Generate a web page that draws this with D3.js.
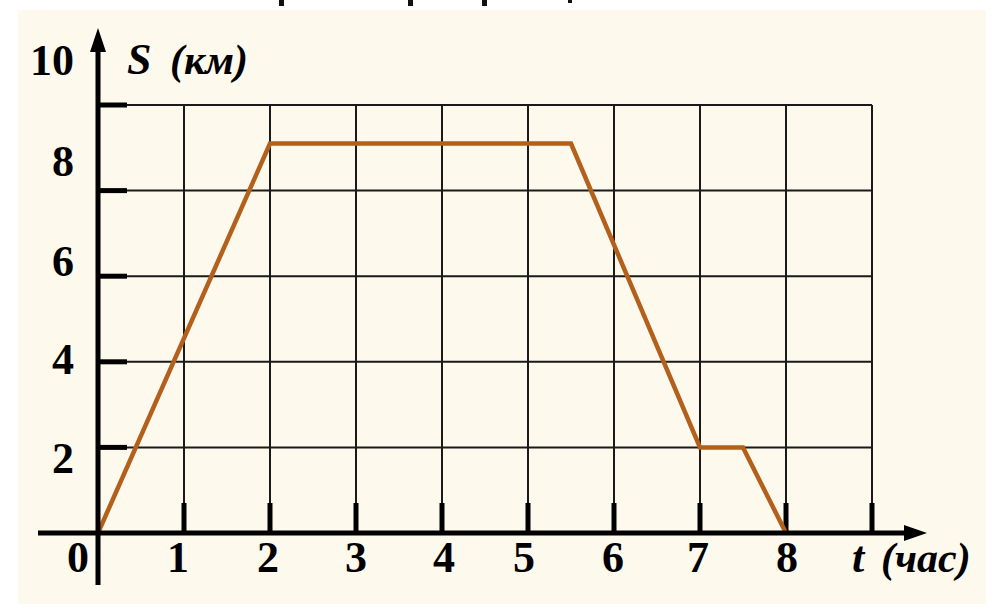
<!DOCTYPE html>
<html><head><meta charset="utf-8">
<script src="https://cdn.jsdelivr.net/npm/d3@7/dist/d3.min.js"></script>
<style>html,body{margin:0;padding:0;background:#fff;overflow:hidden}</style>
</head><body>
<svg id="c" width="996" height="615"></svg>
<script>
// ---- data ----
const times     = [0, 2, 5.5, 7, 7.5, 8];      // t (час)
const distances = [0, 9.1, 9.1, 2, 2, 0];      // S (км)
const xTicks = [0, 1, 2, 3, 4, 5, 6, 7, 8, 9];
const xTickLabels = ["0", "1", "2", "3", "4", "5", "6", "7", "8", ""];
const yTicks = [2, 4, 6, 8, 10];
const yTickLabels = ["2", "4", "6", "8", "10"];
const xTitle = ["t", "(час)"];
const yTitle = ["S", "(км)"];

// ---- layout ----
const svg = d3.select("#c");
const x = d3.scaleLinear().domain([0, 9]).range([98, 872]);
const y = d3.scaleLinear().domain([0, 10]).range([533, 105]);
const font = "'Liberation Serif','Times New Roman',serif";

// background
svg.append("rect").attr("x", 18).attr("y", 10).attr("width", 968).attr("height", 594).attr("fill", "#fdf9ed");
// fragments of a cut-off heading line above
[281, 410, 484].forEach(px => svg.append("rect").attr("x", px - 2).attr("y", 0).attr("width", 5).attr("height", 6).attr("fill", "#111"));
svg.append("rect").attr("x", 568).attr("y", 0).attr("width", 4).attr("height", 3).attr("fill", "#111");

const g = svg.append("g");

// grid lines
g.selectAll("line.hg").data(yTicks).join("line")
  .attr("x1", x(0)).attr("x2", x(9)).attr("y1", d => y(d)).attr("y2", d => y(d))
  .attr("stroke", "#1a1a1a").attr("stroke-width", 2);
g.selectAll("line.vg").data(xTicks.slice(1)).join("line")
  .attr("x1", d => x(d)).attr("x2", d => x(d)).attr("y1", y(10)).attr("y2", y(0))
  .attr("stroke", "#1a1a1a").attr("stroke-width", 2);

// thick ticks
g.selectAll("line.yt").data(yTicks).join("line")
  .attr("x1", x(0)).attr("x2", x(0) + 29).attr("y1", d => y(d)).attr("y2", d => y(d))
  .attr("stroke", "#000").attr("stroke-width", 5);
g.selectAll("line.xt").data(xTicks.slice(1)).join("line")
  .attr("x1", d => x(d)).attr("x2", d => x(d)).attr("y1", y(0)).attr("y2", y(0) - 30)
  .attr("stroke", "#000").attr("stroke-width", 5);

// the graph line
const line = d3.line().x((d, i) => x(times[i])).y(d => y(d));
g.append("path").datum(distances).attr("d", line)
  .attr("fill", "none").attr("stroke", "#b2601c").attr("stroke-width", 4.5)
  .attr("stroke-linejoin", "miter");

// axes
g.append("line").attr("x1", 38).attr("x2", 910).attr("y1", y(0)).attr("y2", y(0))
  .attr("stroke", "#000").attr("stroke-width", 5);
g.append("path").attr("d", `M927,${y(0)} L904,${y(0) - 8} L904,${y(0) + 8} Z`).attr("fill", "#000");
g.append("line").attr("x1", x(0)).attr("x2", x(0)).attr("y1", 585).attr("y2", 45)
  .attr("stroke", "#000").attr("stroke-width", 5);
g.append("path").attr("d", `M${x(0)},28 L${x(0) - 8},52 L${x(0) + 8},52 Z`).attr("fill", "#000");

// tick labels
const yLabelShift = {2: 11, 4: -2, 6: -15, 8: -29, 10: -45};
g.selectAll("text.yl").data(yTicks).join("text")
  .attr("x", 74).attr("y", d => y(d) + yLabelShift[d])
  .attr("text-anchor", "end").attr("dominant-baseline", "central")
  .attr("font-family", font).attr("font-weight", "bold").attr("font-size", 44)
  .text((d, i) => yTickLabels[i]);

const xLabelShift = {0: -20, 1: -6, 2: -2, 3: 0, 4: 2, 5: -4, 6: -1, 7: -2, 8: 1};
g.selectAll("text.xl").data(xTicks.filter((d, i) => xTickLabels[i] !== "")).join("text")
  .attr("x", d => x(d) + xLabelShift[d]).attr("y", 572)
  .attr("text-anchor", "middle")
  .attr("font-family", font).attr("font-weight", "bold").attr("font-size", 44)
  .text((d, i) => xTickLabels[i]);

// axis titles
const yt = g.append("text").attr("y", 74)
  .attr("font-family", font).attr("font-weight", "bold").attr("font-style", "italic").attr("font-size", 44);
yt.append("tspan").attr("x", 127).text(yTitle[0]);
yt.append("tspan").attr("x", 170).attr("font-size", 42).text(yTitle[1]);

const xt = g.append("text").attr("y", 572)
  .attr("font-family", font).attr("font-weight", "bold").attr("font-style", "italic").attr("font-size", 44);
xt.append("tspan").attr("x", 852).text(xTitle[0]);
xt.append("tspan").attr("x", 881).attr("font-size", 42).text(xTitle[1]);
</script>
</body></html>
